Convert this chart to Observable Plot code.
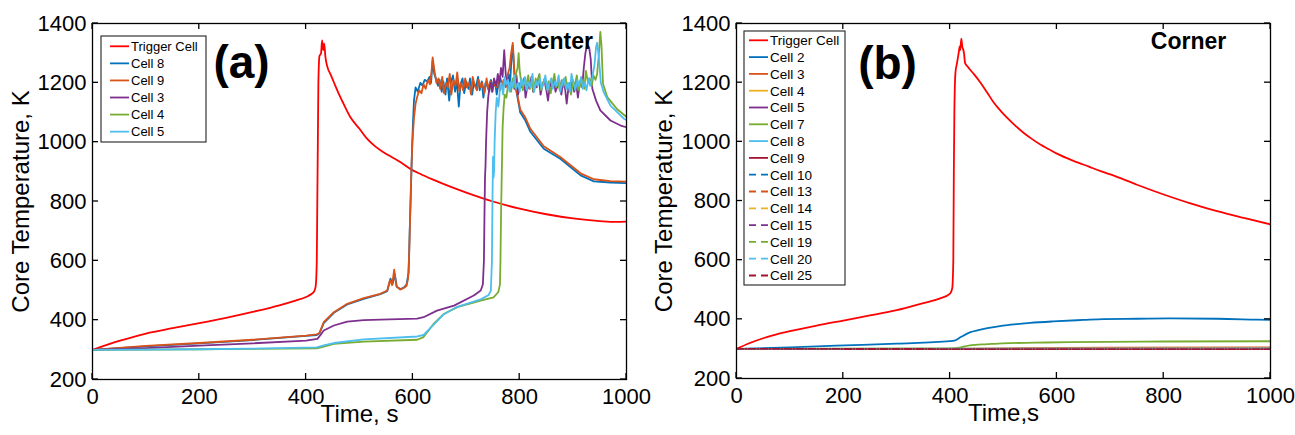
<!DOCTYPE html>
<html><head><meta charset="utf-8">
<script src="https://cdn.jsdelivr.net/npm/d3@7"></script>
<script src="https://cdn.jsdelivr.net/npm/@observablehq/plot@0.6"></script>
<style>
body{margin:0;background:#fff;}
#wrap{position:relative;width:1295px;height:435px;overflow:hidden;background:#fff;font-family:"Liberation Sans",Arial,sans-serif;}
#wrap svg{position:absolute;top:0;overflow:visible;}
</style></head><body><div id="wrap"></div>
<script>
const xTicks = [0, 200, 400, 600, 800, 1000];
const yTicks = [200, 400, 600, 800, 1000, 1200, 1400];
const xTitleA = "Time, s", xTitleB = "Time,s", yTitle = "Core Temperature, K";

// ---------- Panel (a): Center ----------
const aTrigger = [[0,300],[50,330],[100,355],[150,373],[200,390],[250,408],[300,428],[350,450],[380,466],[400,478],[410,488],[415,497],[418,515],[420,600],[421,800],[422,1000],[423,1200],[425,1290],[428,1300],[430,1343],[432,1310],[434,1332],[436,1290],[440,1253],[446,1228],[452,1202],[460,1168],[470,1130],[483,1084],[500,1045],[514,1012],[530,985],[545,966],[560,950],[577,932],[595,910],[615,892],[639,873],[670,850],[700,830],[750,800],[800,776],[850,757],[900,743],[950,734],[980,731],[1000,732]];
const aCell8 = [[0,300],[100,312],[200,322],[300,333],[400,347],[420,350],[425,355],[433,390],[452,425],[477,453],[508,472],[539,488],[552,498],[558,540],[562,522],[566,555],[570,512],[577,505],[583,510],[588,520],[592,560],[594,700],[596,820],[598,950],[600,1060],[602,1140],[605,1185],[609,1170],[614,1200],[618,1190],[622,1210],[627,1205],[631,1220],[634,1200],[637,1275],[640,1230],[643,1215],[647,1190],[650,1210],[654,1170],[657,1205],[661,1160],[664,1215],[668,1140],[671,1200],[675,1225],[679,1170],[682,1210],[686,1120],[689,1195],[693,1215],[696,1165],[700,1205],[704,1180],[707,1215],[711,1160],[714,1200],[718,1185],[722,1220],[725,1175],[729,1205],[732,1150],[736,1200],[739,1190],[743,1170],[746,1210],[750,1185],[754,1200],[757,1160],[761,1205],[764,1215],[768,1180],[771,1210],[775,1195],[779,1230],[782,1200],[785,1290],[787,1325],[790,1230],[793,1180],[801,1100],[810,1075],[820,1035],[845,978],[876,944],[914,888],[939,868],[970,864],[1000,862]];
const aCell9 = [[0,300],[100,313],[200,323],[300,334],[400,348],[420,352],[425,357],[433,393],[452,427],[477,455],[508,474],[539,489],[552,500],[557,535],[561,518],[565,570],[569,515],[576,503],[582,508],[588,515],[591,540],[593,620],[595,760],[597,900],[599,1000],[602,1080],[605,1130],[608,1152],[612,1175],[616,1165],[620,1195],[624,1180],[628,1210],[632,1195],[635,1240],[637,1286],[640,1245],[644,1200],[648,1215],[651,1180],[655,1220],[658,1165],[662,1200],[665,1185],[669,1230],[672,1160],[676,1210],[680,1190],[683,1235],[687,1170],[690,1200],[694,1175],[698,1215],[701,1185],[705,1200],[709,1160],[712,1220],[716,1190],[720,1175],[723,1210],[727,1185],[730,1200],[734,1165],[738,1215],[741,1180],[745,1205],[748,1170],[752,1200],[756,1185],[760,1215],[763,1175],[767,1195],[770,1210],[774,1185],[777,1225],[781,1250],[784,1300],[787,1335],[790,1240],[793,1185],[801,1110],[810,1085],[820,1045],[845,986],[876,950],[914,895],[939,875],[970,869],[1000,867]];
const aCell3 = [[0,300],[100,306],[200,314],[300,322],[400,331],[421,337],[427,350],[433,365],[452,382],[477,395],[508,400],[539,402],[608,405],[620,410],[645,432],[677,449],[714,483],[727,500],[731,520],[733,600],[734,750],[735,880],[736,920],[737,1000],[739,1100],[741,1150],[743,1180],[746,1200],[749,1170],[752,1215],[756,1190],[759,1230],[762,1200],[765,1250],[768,1220],[771,1310],[774,1225],[777,1190],[780,1215],[783,1175],[787,1205],[790,1180],[794,1225],[797,1160],[801,1200],[804,1185],[808,1215],[811,1150],[815,1195],[818,1180],[822,1220],[825,1170],[829,1200],[832,1185],[836,1225],[839,1160],[843,1195],[846,1210],[850,1175],[853,1140],[857,1200],[860,1185],[864,1215],[867,1170],[871,1190],[874,1210],[878,1160],[881,1200],[885,1180],[888,1130],[892,1195],[895,1175],[899,1210],[902,1170],[906,1195],[909,1150],[913,1205],[917,1185],[920,1250],[923,1300],[926,1326],[930,1320],[933,1280],[936,1180],[943,1140],[951,1107],[970,1073],[989,1056],[1000,1050]];
const aCell4 = [[0,300],[100,301],[200,302],[300,303],[420,305],[435,312],[452,320],[508,328],[608,334],[620,343],[639,388],[658,421],[683,444],[727,466],[751,477],[760,495],[763,520],[764,600],[765,750],[766,850],[767,950],[768,1050],[770,1120],[772,1160],[775,1150],[778,1190],[781,1200],[784,1170],[787,1215],[790,1185],[793,1230],[796,1250],[798,1300],[800,1240],[803,1200],[806,1175],[809,1215],[812,1190],[816,1225],[819,1180],[823,1205],[826,1170],[830,1215],[833,1190],[837,1230],[840,1175],[844,1200],[847,1215],[851,1180],[854,1205],[858,1165],[861,1195],[865,1230],[868,1185],[872,1200],[875,1175],[879,1210],[882,1190],[886,1220],[889,1180],[893,1200],[896,1160],[900,1205],[903,1190],[907,1225],[910,1175],[914,1195],[917,1210],[921,1180],[924,1240],[928,1200],[931,1215],[935,1190],[938,1225],[942,1210],[945,1230],[948,1290],[951,1372],[953,1330],[956,1197],[964,1152],[982,1112],[1000,1085]];
const aCell5 = [[0,300],[100,301],[200,302],[300,304],[420,308],[435,316],[452,323],[508,335],[608,345],[620,350],[639,385],[658,420],[683,445],[727,470],[742,485],[746,500],[748,600],[749,800],[750,950],[751,880],[752,900],[753,1000],[755,1100],[757,1150],[760,1120],[763,1180],[766,1200],[769,1160],[772,1220],[775,1195],[778,1210],[781,1170],[784,1205],[787,1185],[790,1225],[793,1180],[797,1200],[800,1170],[803,1215],[807,1190],[810,1220],[813,1175],[817,1200],[820,1185],[824,1230],[827,1170],[831,1205],[834,1190],[838,1215],[841,1180],[845,1200],[848,1225],[852,1175],[855,1195],[859,1215],[862,1180],[866,1205],[869,1190],[873,1225],[876,1170],[880,1200],[883,1215],[887,1180],[890,1200],[894,1170],[897,1230],[901,1195],[904,1175],[908,1210],[911,1190],[915,1220],[918,1180],[922,1200],[925,1175],[929,1215],[932,1190],[936,1219],[940,1260],[943,1320],[945,1335],[948,1290],[952,1200],[957,1170],[970,1123],[995,1079],[1000,1075]];

// ---------- Panel (b): Corner ----------
const bTrigger = [[0,300],[25,320],[50,336],[75,349],[100,360],[150,379],[200,396],[250,413],[300,431],[350,455],[380,470],[400,487],[404,505],[406,600],[407,900],[408,1100],[410,1233],[413,1267],[416,1300],[418,1323],[419,1310],[421,1349],[423,1320],[424,1315],[426,1300],[428,1267],[432,1256],[445,1228],[457,1200],[470,1165],[482,1132],[495,1104],[507,1081],[522,1055],[538,1030],[553,1010],[569,991],[585,975],[600,960],[632,935],[660,916],[682,901],[700,890],[750,855],[800,822],[850,792],[900,766],[950,743],[1000,721]];
const bCell2 = [[0,300],[100,305],[187,311],[300,318],[400,326],[408,328],[420,340],[437,356],[455,364],[470,370],[499,379],[525,384],[550,388],[593,393],[650,398],[687,401],[750,402],[811,403],[900,402],[974,399],[1000,398]];
const bCell3 = [[0,300],[400,300],[500,302],[700,304],[1000,305]];
const bCell4 = [[0,300],[1000,301]];
const bCell5 = [[0,300],[1000,300]];
const bCell7 = [[0,300],[400,302],[420,305],[437,312],[470,316],[499,319],[560,321],[624,323],[800,325],[1000,326]];
const bCell8 = [[0,300],[500,301],[1000,302]];
const bCell9 = [[0,300],[1000,299]];
const bCell10 = [[0,300],[1000,300]];
const bCell13 = [[0,300],[1000,300]];
const bCell14 = [[0,300],[1000,300]];
const bCell15 = [[0,300],[1000,300]];
const bCell19 = [[0,300],[1000,300]];
const bCell20 = [[0,300],[1000,300]];
const bCell25 = [[0,300],[1000,299]];

const C = {red:"#FF0000", blue:"#0072BD", orange:"#D95319", yellow:"#EDB120", purple:"#7E2F8E", green:"#77AC30", cyan:"#4DBEEE", maroon:"#A2142F"};

const seriesA = [
  {name:"Trigger Cell", color:C.red, smooth:true, data:aTrigger},
  {name:"Cell 8", color:C.blue, data:aCell8},
  {name:"Cell 9", color:C.orange, data:aCell9},
  {name:"Cell 3", color:C.purple, data:aCell3},
  {name:"Cell 4", color:C.green, data:aCell4},
  {name:"Cell 5", color:C.cyan, data:aCell5}
];
const seriesB = [
  {name:"Trigger Cell", color:C.red, smooth:true, data:bTrigger},
  {name:"Cell 2", color:C.blue, smooth:true, data:bCell2},
  {name:"Cell 3", color:C.orange, data:bCell3},
  {name:"Cell 4", color:C.yellow, data:bCell4},
  {name:"Cell 5", color:C.purple, data:bCell5},
  {name:"Cell 7", color:C.green, smooth:true, data:bCell7},
  {name:"Cell 8", color:C.cyan, data:bCell8},
  {name:"Cell 9", color:C.maroon, data:bCell9},
  {name:"Cell 10", color:C.blue, dash:true, data:bCell10},
  {name:"Cell 13", color:C.orange, dash:true, data:bCell13},
  {name:"Cell 14", color:C.yellow, dash:true, data:bCell14},
  {name:"Cell 15", color:C.purple, dash:true, data:bCell15},
  {name:"Cell 19", color:C.green, dash:true, data:bCell19},
  {name:"Cell 20", color:C.cyan, dash:true, data:bCell20},
  {name:"Cell 25", color:C.maroon, dash:true, data:bCell25}
];

function panel(cfg) {
  const H = 435;
  const marks = [];
  for (const s of cfg.series) {
    marks.push(Plot.line(s.data, {x: d => d[0], y: d => d[1], stroke: s.color, strokeWidth: 1.8,
      curve: s.smooth ? "monotone-x" : "linear",
      strokeDasharray: s.dash ? "7,5" : null, strokeLinejoin: "round", clip: true}));
  }
  marks.push(Plot.frame({stroke: "#000", strokeWidth: 1.3}));
  marks.push(Plot.axisX(xTicks, {tickSize: 0, tickPadding: 9, fontSize: 22, label: null, tickFormat: d => String(d)}));
  marks.push(Plot.axisY(yTicks, {tickSize: 0, tickPadding: 6, fontSize: 22, label: null, tickFormat: d => String(d)}));
  marks.push(Plot.text([cfg.xTitle], {frameAnchor: "bottom", dy: 35, fontSize: 24, textAnchor: "middle", lineAnchor: "middle"}));
  marks.push(Plot.text([yTitle], {frameAnchor: "left", dx: cfg.yTitleDx, rotate: -90, fontSize: 24, textAnchor: "middle", lineAnchor: "middle"}));
  marks.push(Plot.text([cfg.tag], {frameAnchor: "top-left", dx: cfg.tagDx, dy: cfg.tagDy, fontSize: 46, fontWeight: "bold", textAnchor: "middle", lineAnchor: "middle"}));
  marks.push(Plot.text([cfg.region], {frameAnchor: "top-left", dx: cfg.regDx, dy: cfg.regDy, fontSize: 23, fontWeight: "bold", textAnchor: "middle", lineAnchor: "middle"}));

  const chart = Plot.plot({
    width: cfg.width, height: H,
    marginLeft: cfg.mL, marginRight: cfg.mR, marginTop: 23, marginBottom: cfg.mB,
    x: {domain: [0, 1000]}, y: {domain: [200, 1400]},
    style: {fontFamily: '"Liberation Sans", Arial, sans-serif', color: "#000", background: "transparent", overflow: "visible"},
    marks
  });
  const sx = chart.scale("x"), sy = chart.scale("y");
  const top = 23, bottom = H - cfg.mB, left = cfg.mL, right = cfg.width - cfg.mR;
  const svg = d3.select(chart);
  const g = svg.append("g").attr("stroke", "#000").attr("stroke-width", 1.3);
  const tl = 6;
  for (const v of xTicks) {
    const x = sx.apply(v);
    g.append("line").attr("x1", x).attr("x2", x).attr("y1", bottom).attr("y2", bottom - tl);
    g.append("line").attr("x1", x).attr("x2", x).attr("y1", top).attr("y2", top + tl);
  }
  for (const v of yTicks) {
    const y = sy.apply(v);
    g.append("line").attr("x1", left).attr("x2", left + tl).attr("y1", y).attr("y2", y);
    g.append("line").attr("x1", right).attr("x2", right - tl).attr("y1", y).attr("y2", y);
  }
  // legend
  const L = cfg.legend;
  const lg = svg.append("g");
  lg.append("rect").attr("x", L.x0).attr("y", L.y0).attr("width", L.x1 - L.x0).attr("height", L.y1 - L.y0)
    .attr("fill", "#fff").attr("stroke", "#222").attr("stroke-width", 1.1);
  cfg.series.forEach((s, i) => {
    const y = L.row0 + i * L.step;
    lg.append("line").attr("x1", L.lx0).attr("x2", L.lx1).attr("y1", y).attr("y2", y)
      .attr("stroke", s.color).attr("stroke-width", 1.8).attr("stroke-dasharray", s.dash ? "7,5" : null);
    lg.append("text").attr("x", L.tx).attr("y", y).attr("dy", "0.36em").attr("font-size", L.fs)
      .attr("text-anchor", "start").style("text-anchor", "start")
      .attr("fill", "#000").attr("font-family", '"Liberation Sans", Arial, sans-serif').text(s.name);
  });
  chart.style.left = cfg.left + "px";
  return chart;
}

const wrap = document.getElementById("wrap");
wrap.appendChild(panel({
  series: seriesA, width: 647, left: 0, mL: 92, mR: 21, mB: 56, xTitle: xTitleA, yTitleDx: -71,
  tag: "(a)", tagDx: 149, tagDy: 40, region: "Center", regDx: 464, regDy: 18,
  legend: {x0: 101, x1: 206, y0: 36, y1: 142, lx0: 110, lx1: 129, tx: 131, row0: 46.3, step: 17.07, fs: 13}
}));
wrap.appendChild(panel({
  series: seriesB, width: 648, left: 647, mL: 89, mR: 25, mB: 57, xTitle: xTitleB, yTitleDx: -72,
  tag: "(b)", tagDx: 151, tagDy: 41, region: "Corner", regDx: 452, regDy: 18.5,
  legend: {x0: 97, x1: 198, y0: 31, y1: 285, lx0: 102, lx1: 121, tx: 123, row0: 40.3, step: 16.8, fs: 13.5}
}));
</script>
</body></html>
